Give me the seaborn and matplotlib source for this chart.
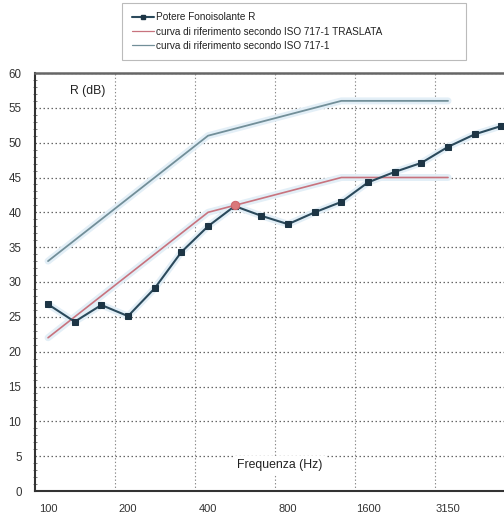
import numpy as np
import pandas as pd
import matplotlib
matplotlib.use("Agg")
import matplotlib.pyplot as plt
from matplotlib.lines import Line2D
import seaborn as sns

# ---- data ----
freqs = ["100", "125", "160", "200", "250", "315", "400", "500", "630", "800",
         "1000", "1250", "1600", "2000", "2500", "3150", "4000", "5000"]
R_values = [26.8, 24.3, 26.7, 25.1, 29.1, 34.3, 38.0, 40.9, 39.5, 38.3,
            40.0, 41.5, 44.3, 45.8, 47.1, 49.4, 51.2, 52.4]
iso_ref = [33, 36, 39, 42, 45, 48, 51, 52, 53, 54, 55, 56, 56, 56, 56, 56]
iso_shifted = [22, 25, 28, 31, 34, 37, 40, 41, 42, 43, 44, 45, 45, 45, 45, 45]
tick_labels = ["100", "200", "400", "800", "1600", "3150"]
legend_labels = ["Potere Fonoisolante R",
                 "curva di riferimento secondo ISO 717-1 TRASLATA",
                 "curva di riferimento secondo ISO 717-1"]

pos = np.arange(len(freqs))
df_R = pd.DataFrame({"x": pos, "y": R_values})
df_ref = pd.DataFrame({"x": pos[:len(iso_ref)], "y": iso_ref})
df_sh = pd.DataFrame({"x": pos[:len(iso_shifted)], "y": iso_shifted})

sns.set_style("white")
plt.rcParams["font.family"] = ["Liberation Sans", "DejaVu Sans"]

fig = plt.figure(figsize=(5.04, 5.14), dpi=100)
L, B, T = 34.7, 491, 73
step = 80 / 3
W = 18 * step
ax = fig.add_axes([L / 504, 1 - B / 514, W / 504, (B - T) / 514])

c_data = "#2b4a5c"
c_mark = "#1d3545"
c_red = "#c8737e"
c_ref = "#728f99"
c_halo = "#e3eff7"

# soft halo under the lines
for d in (df_ref, df_sh, df_R):
    sns.lineplot(data=d, x="x", y="y", ax=ax, color=c_halo, lw=5, zorder=2)

sns.lineplot(data=df_ref, x="x", y="y", ax=ax, color=c_ref, lw=1.3, zorder=3)
sns.lineplot(data=df_sh, x="x", y="y", ax=ax, color=c_red, lw=1.2, zorder=3)
sns.lineplot(data=df_R, x="x", y="y", ax=ax, color=c_data, lw=1.5, zorder=4,
             marker="s", markersize=4.2, markeredgecolor=c_mark,
             markerfacecolor=c_mark)
sns.lineplot(data=df_sh, x="x", y="y", ax=ax, color=c_red, lw=0, zorder=5,
             marker="o", markersize=6, markevery=[7],
             markeredgecolor="#d0666c", markerfacecolor="#d9787a")

ax.set_xlim(-0.5, 17.5)
ax.set_ylim(0, 60)
ax.set_xlabel("")
ax.set_ylabel("")

ax.set_xticks(pos[::3])
ax.set_xticklabels(tick_labels)
ax.set_xticks(np.arange(2.5, 17, 3), minor=True)
ax.set_yticks(np.arange(0, 61, 5))
ax.set_yticks(np.arange(0, 61, 1), minor=True)

ax.tick_params(axis="x", which="major", length=0, pad=9, labelsize=8,
               labelcolor="#333333")
ax.tick_params(axis="x", which="minor", length=3, direction="inout",
               color="#777777")
ax.tick_params(axis="y", which="major", length=5, direction="inout", pad=7,
               labelsize=8.3, labelcolor="#333333", color="#444444")
ax.tick_params(axis="y", which="minor", length=3, direction="inout",
               color="#666666", left=True)

ax.grid(False)
ax.yaxis.grid(True, which="major", linestyle=(0, (1.2, 2.0)), color="#666666",
              lw=0.9)
ax.xaxis.grid(True, which="minor", linestyle=(0, (1.2, 2.0)), color="#888888",
              lw=0.8)
ax.set_axisbelow(True)

for s in ["left", "bottom"]:
    ax.spines[s].set_color("#333333")
    ax.spines[s].set_linewidth(1.5)
ax.spines["top"].set_color("#666666")
ax.spines["top"].set_linewidth(1.8)
ax.spines["right"].set_visible(False)

ax.text(0.111, 0.958, "R (dB)", transform=ax.transAxes, fontsize=8.8,
        ha="center", va="center", color="#222222")
ax.text(0.511, 0.062, "Frequenza (Hz)", transform=ax.transAxes, fontsize=8.8,
        ha="center", va="center", color="#222222",
        bbox=dict(facecolor="white", edgecolor="none", pad=2), zorder=6)

handles = [
    Line2D([], [], color=c_data, lw=1.5, marker="s", markersize=3.5,
           markerfacecolor=c_mark, markeredgecolor=c_mark),
    Line2D([], [], color=c_red, lw=0.9),
    Line2D([], [], color=c_ref, lw=0.9),
]
leg = fig.legend(handles, legend_labels, loc="upper left",
                 bbox_to_anchor=(122 / 504, 1 - 3 / 514, 344 / 504, 0),
                 mode="expand", fontsize=7.2, frameon=True, fancybox=False,
                 edgecolor="#aaaaaa", handlelength=2.2, handletextpad=0.3,
                 labelspacing=0.42, borderpad=0.95, borderaxespad=0)
leg.get_frame().set_linewidth(0.8)
for t in leg.get_texts():
    t.set_color("#222222")

fig.savefig("out.png", dpi=100)
